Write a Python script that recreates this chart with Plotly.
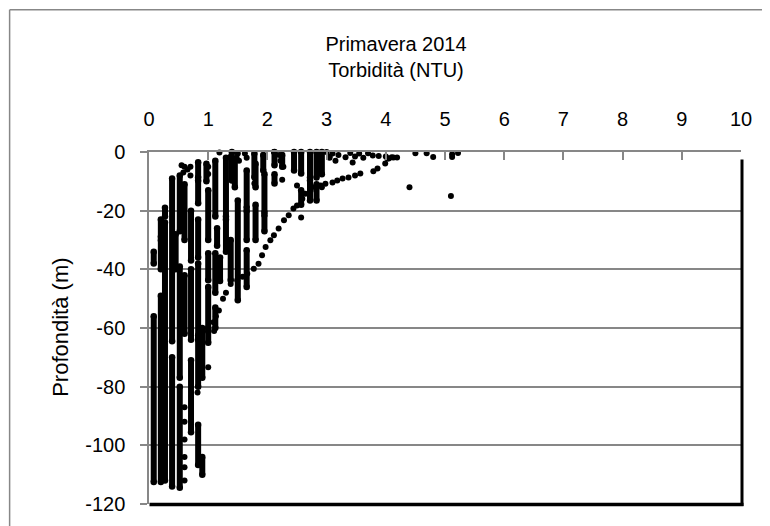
import plotly.graph_objects as go

# ---- data: turbidity (NTU) vs depth (m) ----
# dense vertical runs of measurements: turbidity, top depth, bottom depth
seg_x = [0.08, 0.08, 0.20, 0.20, 0.20, 0.27, 0.27, 0.39, 0.39, 0.52, 0.52, 0.52,
         0.60, 0.60, 0.71, 0.71, 0.71, 0.83, 0.83, 0.83, 0.83, 0.83, 0.83, 0.90, 0.90,
         1.00, 1.00, 1.00, 1.00, 1.12, 1.15, 1.12, 1.12, 1.30, 1.30, 1.38, 1.50, 1.40,
         1.65, 1.65, 1.65, 1.80, 1.80, 1.78, 1.95, 1.95, 1.93, 2.45, 2.57, 2.57, 2.72,
         2.72, 2.83, 2.83, 2.92, 2.12, 2.12,
         0.97, 1.20, 1.45, 2.25, 0.45]
seg_top = [-34, -56, -23, -30, -49, -19, -24, -9, -70, -8, -39, -80,
           -11, -42, -20, -40, -71, -3.5, -9.7, -23, -38, -62.5, -93, -60, -104,
           -13, -34.5, -46, -61, -3, -26, -34.5, -53, -2, -23, -30, -16.5, 0,
           -6.3, -20, -33.5, -4, -18, -0.5, -7.5, -21.5, -1, 0, 0, -13, 0,
           -9.7, 0, -11, 0, 0, -7.6,
           -4, -36, -3, -1, -28]
seg_bottom = [-38, -112.5, -29, -40, -112.5, -22, -112, -64.5, -114, -27, -77, -114.5,
              -30, -62, -37, -64, -95.5, -8.7, -17.5, -36, -64, -80, -106.7, -77, -110,
              -30, -43.7, -60, -65, -22, -32, -48, -60, -22, -34, -43.7, -50.5, -9.7,
              -19, -30, -46, -12, -30, -8.6, -20.6, -27, -6.3, -6.3, -7.3, -18, -8.7,
              -16.5, -8.7, -16.5, -7.6, -4.5, -10.7,
              -10, -44, -12, -5, -40]

# isolated measurements
pt_x = [-0.02, 0.60, 0.60, 0.60, 0.60, 0.60, 0.60, 0.55, 0.60, 0.58, 0.65, 0.70, 0.70,
        0.82, 1.00, 1.00, 1.00, 1.10, 1.19, 1.50, 1.48, 1.52, 1.62, 1.65, 1.38, 1.78,
        1.09, 1.13, 1.18, 1.25, 1.30, 1.38, 1.49, 1.58, 1.66,
        1.77, 1.85, 1.91, 1.97, 2.05, 2.11, 2.19, 2.28, 2.36, 2.44, 2.50, 2.59, 2.64,
        2.73, 2.81, 2.90, 2.98, 3.10, 3.18, 3.27, 3.37, 3.48, 3.57, 3.79, 3.86, 3.99,
        4.03, 4.13, 4.19,
        2.11, 2.20, 2.22, 2.27, 2.25, 2.50, 2.57, 2.92, 3.00, 3.05, 3.10, 3.15, 3.20,
        3.05, 3.32, 3.40, 3.48, 3.55, 3.62, 3.70, 3.78, 3.44, 3.88, 4.00, 4.05, 4.10,
        4.50, 4.69, 4.80, 5.12, 5.12, 5.22, 4.40, 5.10]
pt_depth = [-105, -87, -92, -98, -104, -107.5, -112, -4.5, -5, -7, -6, -5, -8,
            -82, -5, -7.5, -73.4, -61, -0.2, -0.5, -2, -3, -0.5, -2, -1.5, -10.7,
            -58, -56, -54, -50, -48, -45, -43.7, -42.5, -41.5,
            -39.8, -38.1, -35.2, -32.4, -30.1, -28.4, -26.1, -23.3, -21.6, -19.3, -18.2, -15.9, -14.2,
            -13.1, -12.0, -11.4, -10.8, -10.4, -9.7, -9.0, -8.7, -8.0, -7.3, -6.6, -5.6, -3.9,
            -2.2, -1.9, -1.9,
            0, -1, -3, -5, -9.5, -11.4, -22.3, -12, 0, -2, -0.5, -3, -1,
            -1.5, -1.8, -0.3, -1.5, -0.5, -2, -0.4, -1.2, -3.6, -1.4, -1.5, -2.2, -1.8,
            -0.4, -0.4, -1.7, -0.8, -1.7, -0.3, -12, -15]

x_ticks = [0, 1, 2, 3, 4, 5, 6, 7, 8, 9, 10]
y_ticks = [0, -20, -40, -60, -80, -100, -120]
y_tick_text = ["0", "-20", "-40", "-60", "-80", "-100", "-120"]

# ---- figure (page body has an 8px margin, so work in screen px minus OFF) ----
OFF = 8
W, H = 770 - OFF, 526 - OFF
L_S, R_S, T_S, B_S = 148.5, 741, 151.5, 504  # plot area on screen
ML, MT = L_S - OFF, T_S - OFF
MR, MB = W - (R_S - OFF), H - (B_S - OFF)
PW, PH = R_S - L_S, B_S - T_S

seg_lx, seg_ly = [], []
for x, t, b in zip(seg_x, seg_top, seg_bottom):
    seg_lx += [x, x, None]
    seg_ly += [t, b, None]

REG = "Liberation Sans, Arial, sans-serif"
GRAY = "#878787"

fig = go.Figure()
fig.add_trace(go.Scatter(x=seg_lx, y=seg_ly, mode="lines+markers",
                         line=dict(color="black", width=6),
                         marker=dict(color="black", size=6.5),
                         cliponaxis=False, showlegend=False, hoverinfo="skip"))
fig.add_trace(go.Scatter(x=pt_x, y=pt_depth, mode="markers",
                         marker=dict(color="black", size=6),
                         cliponaxis=False, showlegend=False))

def px_x(p):  # screen px -> paper x
    return (p - L_S) / PW

def px_y(p):  # screen px -> paper y
    return 1 - (p - T_S) / PH

shapes = [
    # outer chart frame (left & top edges visible)
    dict(type="line", xref="paper", yref="paper", x0=px_x(9), x1=px_x(9),
         y0=px_y(9), y1=px_y(540), line=dict(color=GRAY, width=1.5)),
    dict(type="line", xref="paper", yref="paper", x0=px_x(9), x1=px_x(790),
         y0=px_y(9), y1=px_y(9), line=dict(color=GRAY, width=1.5)),
    # black shadow edges of the plot area
    dict(type="line", xref="paper", yref="paper", x0=px_x(742), x1=px_x(742),
         y0=px_y(159), y1=px_y(506), line=dict(color="black", width=3)),
    dict(type="line", xref="paper", yref="paper", x0=px_x(149), x1=px_x(743.5),
         y0=px_y(504.5), y1=px_y(504.5), line=dict(color="black", width=3.5)),
]

annotations = [
    dict(text="Profondità (m)", textangle=-90, showarrow=False,
         xref="paper", yref="paper", x=px_x(60), y=px_y(327),
         xanchor="center", yanchor="middle",
         font=dict(family=REG, size=22, color="black")),
]

fig.update_layout(
    width=W, height=H,
    margin=dict(l=ML, r=MR, t=MT, b=MB, autoexpand=False),
    paper_bgcolor="white", plot_bgcolor="white",
    showlegend=False,
    font=dict(family=REG, color="black", size=20),
    title=dict(text="Primavera 2014<br>Torbidità (NTU)",
               x=(396 - OFF) / W, xanchor="center", xref="container",
               y=1 - 43 / H, yanchor="top", yref="container",
               font=dict(family=REG, size=20, color="black")),
    xaxis=dict(range=[0, 10], side="top", tickvals=x_ticks,
               ticks="inside", ticklen=8, tickwidth=1.5, tickcolor=GRAY,
               showline=True, linecolor=GRAY, linewidth=1.5,
               showgrid=False, zeroline=False, ticklabelstandoff=16,
               automargin=False,
               tickfont=dict(family=REG, size=20, color="black")),
    yaxis=dict(range=[-120, 0], tickvals=y_ticks, ticktext=y_tick_text,
               ticks="outside", ticklen=7, tickwidth=1.5, tickcolor=GRAY,
               showline=True, linecolor=GRAY, linewidth=1.5,
               showgrid=True, gridcolor=GRAY, gridwidth=1.5,
               zeroline=False, ticklabelstandoff=11, automargin=False,
               tickfont=dict(family=REG, size=20, color="black")),
    shapes=shapes,
    annotations=annotations,
)

fig.write_html("out.html")
